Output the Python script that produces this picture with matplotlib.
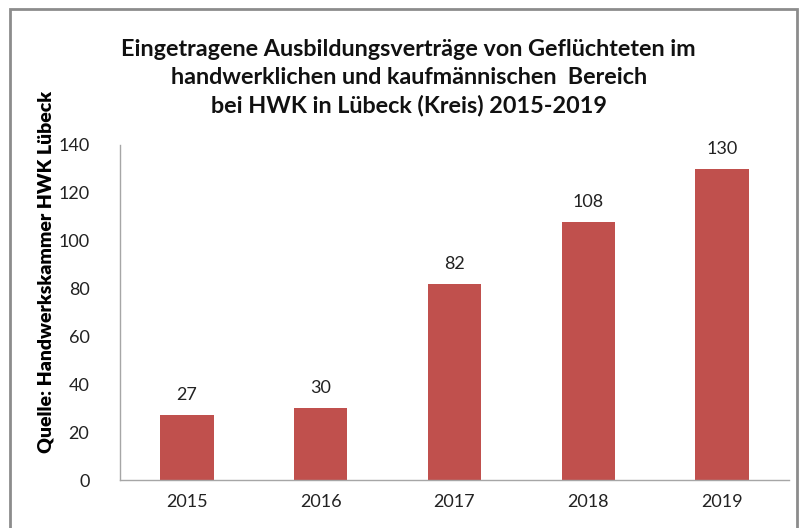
import matplotlib.pyplot as plt
import matplotlib.patches as mpatches

years = ['2015', '2016', '2017', '2018', '2019']
vertraege = [27, 30, 82, 108, 130]
y_ticks = [0, 20, 40, 60, 80, 100, 120, 140]

plt.rcParams['font.family'] = ['Lato', 'DejaVu Sans']

fig = plt.figure(figsize=(8, 5.28), dpi=100)
ax = fig.add_axes([0.15, 0.0909, 0.83625, 0.6345])

x = range(len(years))
bars = ax.bar(x, vertraege, width=0.4, color='#C0504D')
for xi, v in zip(x, vertraege):
    ax.text(xi, v + 5, str(v), ha='center', va='bottom', fontsize=13, color='#222222')

ax.set_xlim(-0.5, len(years) - 0.5)
ax.set_ylim(0, 140)
ax.set_xticks(list(x))
ax.set_xticklabels(years)
ax.set_yticks(y_ticks)
ax.tick_params(length=0, labelsize=13, colors='#222222')
ax.tick_params(axis='y', pad=22)
ax.tick_params(axis='x', pad=10)
for s in ['top', 'right']:
    ax.spines[s].set_visible(False)
for s in ['left', 'bottom']:
    ax.spines[s].set_color('#A6A6A6')
    ax.spines[s].set_linewidth(1)

fig.text(0.511, 0.853, 'Eingetragene Ausbildungsverträge von Geflüchteten im\n'
         'handwerklichen und kaufmännischen  Bereich\n'
         'bei HWK in Lübeck (Kreis) 2015-2019',
         ha='center', va='center', fontsize=16.8, fontweight='bold',
         linespacing=1.4, color='#111111')

fig.text(0.057, 0.485, 'Quelle: Handwerkskammer HWK Lübeck', rotation=90,
         ha='center', va='center', fontsize=14, fontweight='heavy')

fig.patches.append(mpatches.Rectangle((0.0125, -0.01), 0.984, 0.993,
                                      transform=fig.transFigure, fill=False,
                                      edgecolor='#8C8C8C', linewidth=2))

fig.savefig('out.png', dpi=100)
